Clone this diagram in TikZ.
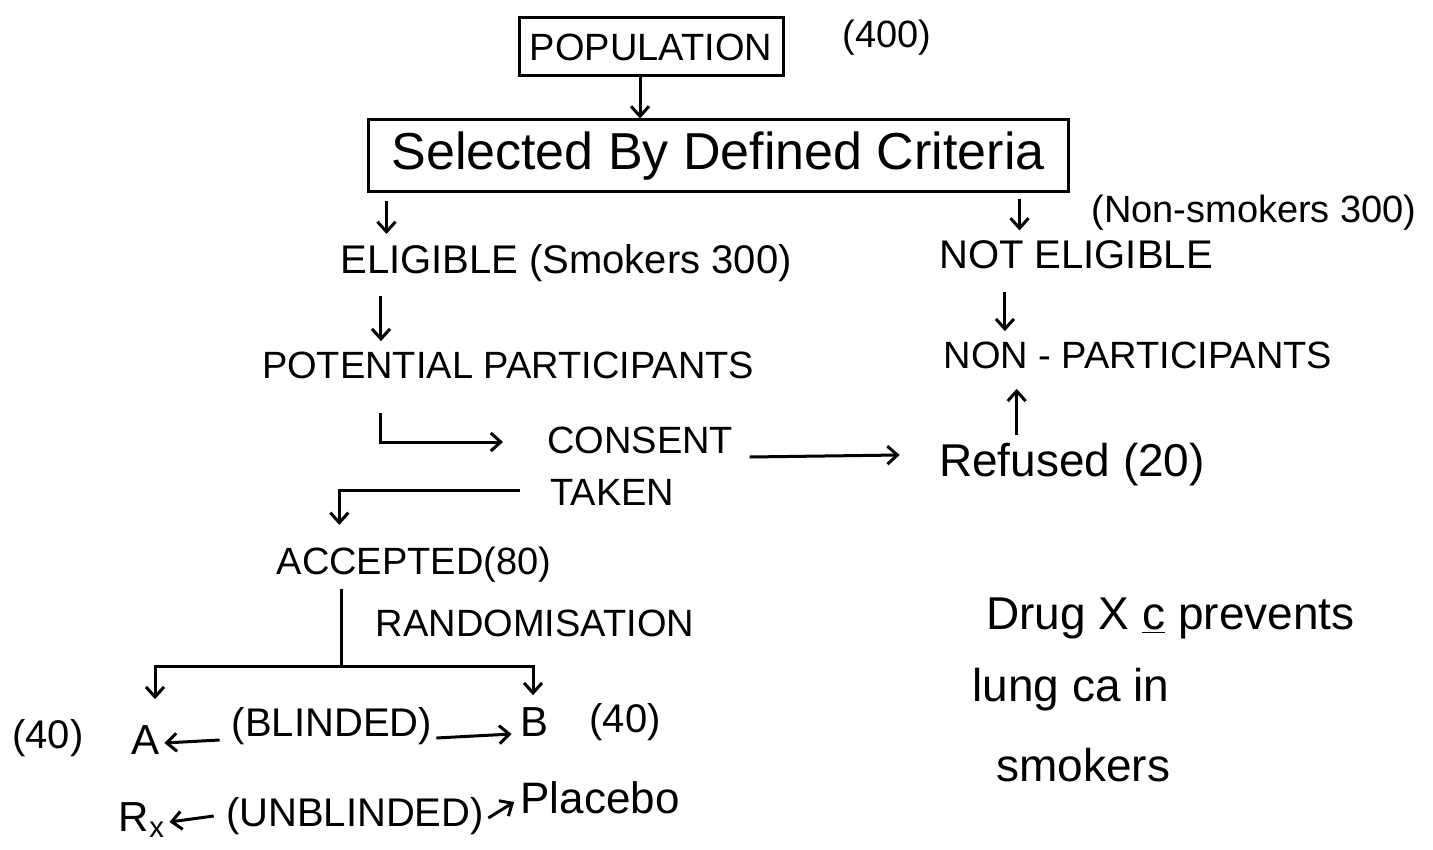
\documentclass[tikz,border=0pt]{standalone}
\usepackage{fontspec}
\setmainfont{Liberation Sans}
\usetikzlibrary{arrows.meta,calc}
\tikzset{
  lbl/.style={font=\fontsize{19}{22}\selectfont, inner sep=2pt},
  big/.style={font=\fontsize{26}{30}\selectfont, inner sep=2pt},
  hand/.style={font=\fontsize{23}{27}\selectfont, inner sep=2pt},
  arr/.style={line width=1.5pt, -{Straight Barb[length=5pt,width=9pt]}},
  ln/.style={line width=1.5pt},
  box/.style={draw, line width=1.5pt}
}
\begin{document}
\begin{tikzpicture}[x=0.5pt,y=-0.5pt]
\useasboundingbox (0,0) rectangle (1433,850);
% nodes
\node[box,lbl,minimum width=132pt,minimum height=29pt] (pop) at (651,47) {POPULATION};
\node[lbl] (n400) at (887,38) {(400)};
\node[box,big,minimum width=350pt,minimum height=36pt] (crit) at (718,156) {Selected By Defined Criteria};
\node[lbl,font=\fontsize{20}{24}\selectfont] (elig) at (566,263) {ELIGIBLE (Smokers 300)};
\node[lbl,font=\fontsize{20}{24}\selectfont] (notel) at (1076,255) {NOT ELIGIBLE};
\node[lbl] (nonsm) at (1254,213) {(Non-smokers 300)};
\node[lbl] (pot) at (508,365) {POTENTIAL PARTICIPANTS};
\node[lbl] (nonp) at (1138,355) {NON - PARTICIPANTS};
\node[lbl,anchor=west] (consent) at (543,440) {CONSENT};
\node[lbl,anchor=west] (taken) at (546,492) {TAKEN};
\node[hand] (refused) at (1072,465) {Refused (20)};
\node[lbl] (acc) at (414,565) {ACCEPTED(80)};
\node[lbl] (rand) at (535,623) {RANDOMISATION};
\node[lbl,font=\fontsize{20}{24}\selectfont] (n40a) at (48,738) {(40)};
\node[lbl,font=\fontsize{21}{24}\selectfont] (A) at (146,740) {A};
\node[lbl,font=\fontsize{20}{24}\selectfont] (blind) at (332,726) {(BLINDED)};
\node[lbl,font=\fontsize{21}{24}\selectfont] (B) at (534,722) {B};
\node[lbl,font=\fontsize{20}{24}\selectfont] (n40b) at (625,722) {(40)};
\node[lbl,font=\fontsize{21}{24}\selectfont] (rx) at (142,820) {R\textsubscript{x}};
\node[lbl,font=\fontsize{20}{24}\selectfont] (unbl) at (355,816) {(UNBLINDED)};
\node[hand,font=\fontsize{22}{26}\selectfont] (placebo) at (600,798) {Placebo};
\node[hand,anchor=west] (d1) at (982,618) {Drug X \underline{c} prevents};
\node[hand,anchor=west] (d2) at (968,690) {lung ca in};
\node[hand,anchor=west] (d3) at (992,765) {smokers};
% connector start points
\coordinate (s1) at ($(crit.south west)+(20,8)$);
\coordinate (s2) at ($(crit.south east)+(-50,6)$);
\coordinate (s3) at ($(elig.south west)+(45,10)$);
\coordinate (s4) at ($(notel.south west)+(70,18)$);
\coordinate (s5) at ($(refused.north west)+(82,-4)$);
% connectors
\draw[arr] ($(pop.south)+(-11,0)$) -- ($(crit.north)+(-78,0)$);
\draw[arr, shorten >=3pt] (s1) -- (s1 |- elig.north);
\draw[arr, shorten >=3pt] (s2) -- (s2 |- notel.north);
\draw[arr, shorten >=3pt] (s3) -- (s3 |- pot.north);
\draw[arr, shorten >=3pt] (s4) -- (s4 |- nonp.north);
\draw[arr, shorten >=8pt] (s5) -- (s5 |- nonp.south);
\draw[arr] ($(pot.south west)+(123,30)$) |- ($(consent.west)+(-40,2)$);
\draw[arr] ($(consent.east)+(12,17)$) -- ($(refused.west)+(-35,-10)$);
\draw[arr] ($(taken.west)+(-26,-2)$) -| ($(acc.north west)+(67,-18)$);
\coordinate (bar) at ($(acc.south west)+(69,79)$);
\draw[ln] ($(acc.south west)+(69,2)$) -- (bar);
\draw[arr] (bar) -| ($(A.north)+(9,-22)$);
\draw[arr] (bar) -| ($(B.north)+(-1,-8)$);
\draw[arr] ($(blind.west)+(-8,14)$) -- ($(A.east)+(0,3)$);
\draw[arr] ($(blind.east)+(0,12)$) -- ($(B.west)+(-4,12)$);
\draw[arr] ($(unbl.west)+(-8,0)$) -- ($(rx.east)+(0,2)$);
\draw[arr] ($(unbl.east)+(0,2)$) -- ($(placebo.west)+(-2,4)$);
\end{tikzpicture}
\end{document}
